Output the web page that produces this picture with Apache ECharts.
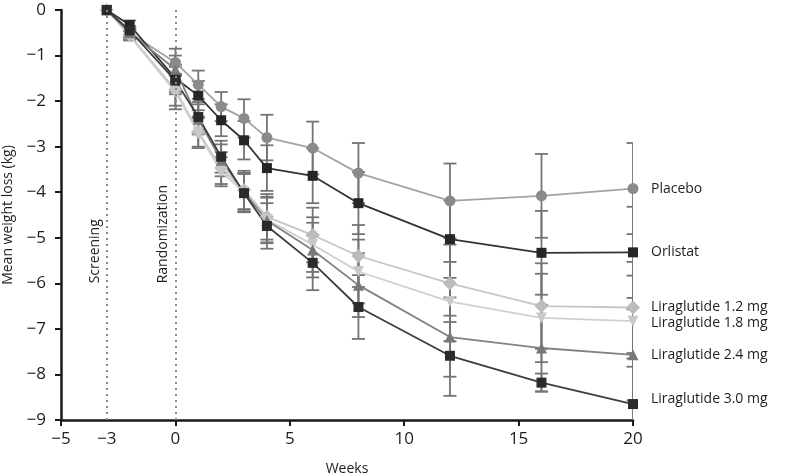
<!DOCTYPE html>
<html>
<head>
<meta charset="utf-8">
<script src="https://cdn.jsdelivr.net/npm/echarts@6/dist/echarts.min.js"></script>
<style>
html,body{margin:0;padding:0;background:#fff;}
#chart{width:785px;height:476px;}
</style>
</head>
<body>
<div id="chart"></div>
<script>
// ---- data ----
var weeks = [-3, -2, 0, 1, 2, 3, 4, 6, 8, 12, 16, 20];
var seriesNames = ['Placebo', 'Orlistat', 'Liraglutide 1.2 mg', 'Liraglutide 1.8 mg', 'Liraglutide 2.4 mg', 'Liraglutide 3.0 mg'];
var placebo  = [0, -0.50, -1.15, -1.64, -2.12, -2.38, -2.80, -3.03, -3.58, -4.19, -4.08, -3.92];
var orlistat = [0, -0.33, -1.50, -1.88, -2.42, -2.86, -3.47, -3.64, -4.24, -5.03, -5.33, -5.32];
var lira12   = [0, -0.55, -1.75, -2.67, -3.47, -3.95, -4.54, -4.94, -5.40, -6.00, -6.50, -6.53];
var lira18   = [0, -0.57, -1.80, -2.70, -3.55, -4.00, -4.60, -5.15, -5.74, -6.40, -6.76, -6.83];
var lira24   = [0, -0.50, -1.30, -2.40, -3.30, -4.00, -4.62, -5.27, -6.04, -7.18, -7.42, -7.57];
var lira30   = [0, -0.45, -1.55, -2.35, -3.22, -4.02, -4.74, -5.55, -6.52, -7.59, -8.18, -8.65];
// error bar half-widths (kg)
var placeboErr  = [0, 0.10, 0.30, 0.31, 0.32, 0.42, 0.50, 0.58, 0.66, 0.82, 0.92, 1.00];
var orlistatErr = [0, 0.10, 0.30, 0.32, 0.35, 0.42, 0.50, 0.60, 0.68, 0.85, 0.92, 1.00];
var lira12Err   = [0, 0.10, 0.35, 0.33, 0.35, 0.42, 0.50, 0.60, 0.68, 0.85, 0.94, 1.00];
var lira18Err   = [0, 0.10, 0.38, 0.33, 0.32, 0.42, 0.50, 0.60, 0.70, 0.87, 0.97, 1.00];
var lira24Err   = [0, 0.10, 0.30, 0.33, 0.35, 0.42, 0.50, 0.60, 0.70, 0.87, 0.95, 1.00];
var lira30Err   = [0, 0.10, 0.30, 0.33, 0.35, 0.42, 0.50, 0.60, 0.70, 0.88, 0.20, 1.00];
var xTickLabels = [-5, -3, 0, 5, 10, 15, 20];
var xTickMarks = [-5, 0, 5, 10, 15, 20];
var yTicks = [0, -1, -2, -3, -4, -5, -6, -7, -8, -9];
var visitLines = [{x: -3, label: 'Screening'}, {x: 0, label: 'Randomization'}];
var visitLabelStartY = -6.0;

// ---- styles ----
var FONT = '"Open Sans", "DejaVu Sans", sans-serif';
var values = [placebo, orlistat, lira12, lira18, lira24, lira30];
var errs = [placeboErr, orlistatErr, lira12Err, lira18Err, lira24Err, lira30Err];
var styles = [
  {line: '#a3a3a3', mark: '#8a8a8a', symbol: 'circle', size: 11, rot: 0, off: [0, 0]},
  {line: '#333333', mark: '#262626', symbol: 'rect', size: 10, rot: 0, off: [0, 0]},
  {line: '#c6c6c6', mark: '#bcbcbc', symbol: 'diamond', size: 14, rot: 0, off: [0, 0]},
  {line: '#d0d0d0', mark: '#c8c8c8', symbol: 'triangle', size: 11, rot: 180, off: [0, 2]},
  {line: '#828282', mark: '#787878', symbol: 'triangle', size: 11, rot: 0, off: [0, 0]},
  {line: '#3d3d3d', mark: '#2b2b2b', symbol: 'rect', size: 10, rot: 0, off: [0, -5]}
];

var chart = echarts.init(document.getElementById('chart'), null, {renderer: 'canvas'});

var series = [];
// error bars
values.forEach(function (vals, si) {
  var d = weeks.map(function (w, i) { return [w, vals[i] - errs[si][i], vals[i] + errs[si][i]]; });
  series.push({
    type: 'custom',
    clip: true,
    z: 1,
    silent: true,
    data: d,
    encode: {x: 0, y: [1, 2]},
    renderItem: function (params, api) {
      var x = api.value(0);
      var lo = api.coord([x, api.value(1)]);
      var hi = api.coord([x, api.value(2)]);
      if (Math.abs(lo[1] - hi[1]) < 1) return null;
      var hw = 6.5;
      var st = {stroke: '#747474', lineWidth: 1.8};
      return {
        type: 'group',
        children: [
          {type: 'line', shape: {x1: lo[0], y1: lo[1], x2: hi[0], y2: hi[1]}, style: st},
          {type: 'line', shape: {x1: lo[0] - hw, y1: lo[1], x2: lo[0] + hw, y2: lo[1]}, style: st},
          {type: 'line', shape: {x1: hi[0] - hw, y1: hi[1], x2: hi[0] + hw, y2: hi[1]}, style: st}
        ]
      };
    }
  });
});

// visit dotted lines
series.push({
  type: 'line',
  data: [],
  z: 0,
  markLine: {
    silent: true,
    symbol: 'none',
    label: {show: false},
    lineStyle: {color: '#8a8a8a', type: [2, 4], width: 2},
    data: visitLines.map(function (v) { return {xAxis: v.x}; })
  }
});

// data lines
values.forEach(function (vals, si) {
  var s = styles[si];
  series.push({
    name: seriesNames[si],
    type: 'line',
    z: 3,
    data: weeks.map(function (w, i) { return [w, vals[i]]; }),
    symbol: s.symbol,
    symbolSize: s.size,
    symbolRotate: s.rot,
    showAllSymbol: true,
    lineStyle: {color: s.line, width: 1.8},
    itemStyle: {color: s.mark},
    endLabel: {
      show: true,
      formatter: function (p) { return p.seriesName; },
      color: '#1e1e1e',
      fontFamily: FONT,
      fontSize: 14,
      distance: 18,
      offset: s.off
    },
    animation: false
  });
});

var option = {
  animation: false,
  backgroundColor: '#fff',
  grid: {left: 61, right: 152, top: 10, bottom: 56, containLabel: false, outerBoundsMode: 'none'},
  xAxis: {
    type: 'value',
    min: -5, max: 20,
    name: 'Weeks',
    nameLocation: 'middle',
    nameGap: 42,
    nameTextStyle: {color: '#1e1e1e', fontFamily: FONT, fontSize: 14},
    axisLine: {show: true, onZero: false, lineStyle: {color: '#1a1a1a', width: 2.5}},
    axisTick: {show: true, customValues: xTickMarks, length: 6, lineStyle: {color: '#1a1a1a', width: 2}},
    axisLabel: {customValues: xTickLabels, color: '#1e1e1e', fontFamily: FONT, fontSize: 17, margin: 11,
      formatter: function (v) { return String(v).replace('-', '\u2212'); }},
    splitLine: {show: false}
  },
  yAxis: {
    type: 'value',
    min: -9, max: 0, interval: 1,
    name: 'Mean weight loss (kg)',
    nameLocation: 'middle',
    nameGap: 46,
    nameTextStyle: {color: '#1e1e1e', fontFamily: FONT, fontSize: 14},
    axisLine: {show: true, onZero: false, lineStyle: {color: '#1a1a1a', width: 2.5}},
    axisTick: {show: true, customValues: yTicks, length: 6, lineStyle: {color: '#1a1a1a', width: 2}},
    axisLabel: {customValues: yTicks, color: '#1e1e1e', fontFamily: FONT, fontSize: 17, margin: 15,
      formatter: function (v) { return String(v).replace('-', '\u2212'); }},
    splitLine: {show: false}
  },
  series: series
};
chart.setOption(option);

// rotated visit labels, positioned via the chart's scales
var g = visitLines.map(function (v) {
  var p = chart.convertToPixel({gridIndex: 0}, [v.x, visitLabelStartY]);
  return {
    type: 'text',
    x: p[0] - 12,
    y: p[1],
    rotation: Math.PI / 2,
    style: {text: v.label, fill: '#1e1e1e', font: '14px ' + FONT, textAlign: 'left', textVerticalAlign: 'middle'},
    silent: true
  };
});
chart.setOption({graphic: g});
</script>
</body>
</html>
